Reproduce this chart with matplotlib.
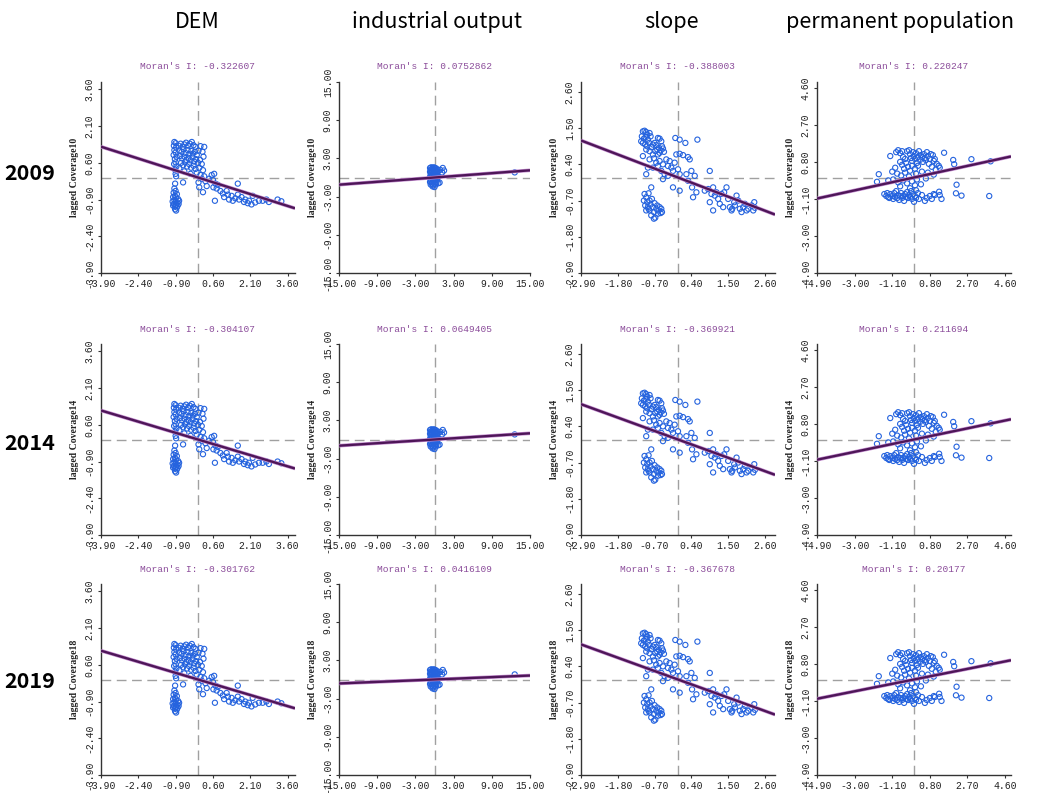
import matplotlib
matplotlib.use('Agg')
import matplotlib.pyplot as plt
import numpy as np

# %% data
columns = ['DEM', 'industrial output', 'slope', 'permanent population']
years = ['2009', '2014', '2019']
lag_names = ['lagged Coverage10', 'lagged Coverage14', 'lagged Coverage18']

# Moran's I per year (rows) and variable (columns)
moran_i = [
    [-0.322607, 0.0752862, -0.388003, 0.220247],
    [-0.304107, 0.0649405, -0.369921, 0.211694],
    [-0.301762, 0.0416109, -0.367678, 0.20177],
]

ticks = [
    [-3.90, -2.40, -0.90, 0.60, 2.10, 3.60],
    [-15.0, -9.0, -3.0, 3.0, 9.0, 15.0],
    [-2.90, -1.80, -0.70, 0.40, 1.50, 2.60],
    [-4.90, -3.00, -1.10, 0.80, 2.70, 4.60],
]
limits = [3.9, 15.0, 2.9, 4.9]

# standardized variable (x) vs spatially lagged coverage (y)
dem_pts = [
    (-0.95, 1.45), (-0.90, 1.40), (-0.97, 1.30), (-0.88, 1.22), (-0.95, 1.12), (-0.90, 1.02),
    (-0.98, 0.92), (-0.86, 0.85), (-0.93, 0.75), (-0.90, 0.62), (-0.96, 0.55), (-0.87, 0.45),
    (-0.92, 0.32), (-0.90, 0.15), (-0.88, 0.05), (-0.92, -0.25),
    (-0.78, 1.30), (-0.70, 1.38), (-0.62, 1.25), (-0.55, 1.35), (-0.48, 1.42), (-0.40, 1.30),
    (-0.33, 1.38), (-0.25, 1.45), (-0.18, 1.32), (-0.10, 1.25), (-0.75, 1.10), (-0.66, 1.05),
    (-0.58, 1.15), (-0.50, 1.00), (-0.42, 1.12), (-0.35, 0.95), (-0.27, 1.08), (-0.20, 0.98),
    (-0.12, 1.05), (-0.05, 0.92), (0.02, 1.10), (0.10, 1.28), (0.18, 1.05), (0.25, 1.25),
    (0.22, 0.85), (-0.72, 0.88), (-0.64, 0.78), (-0.55, 0.85), (-0.47, 0.72), (-0.38, 0.80),
    (-0.30, 0.70), (-0.22, 0.82), (-0.15, 0.65), (-0.08, 0.75), (0.00, 0.60), (0.08, 0.72),
    (0.15, 0.55), (-0.68, 0.60), (-0.60, 0.50), (-0.52, 0.62), (-0.44, 0.45), (-0.36, 0.55),
    (-0.28, 0.40), (-0.18, 0.48), (-0.10, 0.35), (0.05, 0.40), (0.20, 0.30), (-0.75, 0.38),
    (-0.55, 0.25), (-0.30, 0.15), (-0.60, -0.20), (-0.05, 0.20), (0.10, 0.10), (0.25, 0.05),
    (0.02, -0.20), (0.05, -0.40), (0.15, -0.05), (0.30, -0.15), (0.35, -0.35), (0.20, -0.60),
    (0.45, -0.05), (0.55, 0.10), (0.65, 0.15), (0.60, -0.10), (0.70, -0.25), (0.62, -0.40),
    (0.75, -0.45), (0.80, -0.30), (0.68, -0.95), (0.90, -0.55), (1.00, -0.65), (1.05, -0.80),
    (1.15, -0.55), (1.20, -0.70), (1.25, -0.90), (1.35, -0.75), (1.40, -0.95), (1.50, -0.85),
    (1.60, -0.25), (1.60, -0.70), (1.65, -0.90), (1.75, -0.80), (1.85, -1.00), (1.90, -0.90),
    (2.00, -1.05), (2.05, -0.95), (2.15, -1.10), (2.20, -0.75), (2.30, -1.02), (2.45, -0.95),
    (2.60, -0.95), (2.75, -0.90), (2.85, -1.00), (3.20, -0.90), (3.35, -0.97),
    (-0.95, -0.45), (-0.90, -0.55), (-0.98, -0.62), (-0.85, -0.68), (-0.93, -0.75), (-1.00, -0.80),
    (-0.88, -0.82), (-0.80, -0.88), (-0.95, -0.92), (-1.02, -0.98), (-0.90, -1.00), (-0.83, -1.02),
    (-0.97, -1.08), (-0.88, -1.12), (-0.78, -1.08), (-0.93, -1.18), (-1.00, -1.15), (-0.85, -1.22),
    (-0.92, -1.30), (-0.88, -1.35), (-0.76, -0.95), (-0.82, -1.15),
]

ind_pts = [
    (-0.7, 1.5), (-0.5, 1.6), (-0.3, 1.5), (-0.1, 1.6), (0.1, 1.5), (0.3, 1.4), (-0.6, 1.2),
    (-0.4, 1.1), (-0.2, 1.3), (0.0, 1.2), (0.2, 1.1), (0.4, 1.2), (-0.7, 0.9), (-0.5, 0.8),
    (-0.3, 0.9), (-0.1, 0.7), (0.1, 0.9), (0.3, 0.8), (0.5, 0.9), (-0.6, 0.5), (-0.4, 0.4),
    (-0.2, 0.6), (0.0, 0.4), (0.2, 0.5), (0.4, 0.3), (-0.7, 0.1), (-0.5, 0.2), (-0.3, 0.0),
    (-0.1, 0.2), (0.1, 0.0), (0.3, 0.1), (0.5, 0.2), (-0.6, -0.3), (-0.4, -0.2), (-0.2, -0.4),
    (0.0, -0.3), (0.2, -0.2), (0.4, -0.4), (-0.7, -0.7), (-0.5, -0.6), (-0.3, -0.8), (-0.1, -0.6),
    (0.1, -0.7), (0.3, -0.8), (-0.6, -1.1), (-0.4, -1.0), (-0.2, -1.2), (0.0, -1.0), (0.2, -1.1),
    (-0.3, -1.4), (0.0, -1.5), (0.6, -0.9), (0.8, -0.8), (0.9, 1.2), (1.3, 1.5), (1.5, 1.1),
    (1.2, 0.8), (12.6, 0.8),
]

slope_pts = [
    (-1.10, 1.10), (-1.05, 1.40), (-1.00, 1.42), (-0.95, 1.38), (-0.92, 1.30), (-1.08, 1.25),
    (-1.02, 1.18), (-0.97, 1.22), (-0.90, 1.15), (-0.85, 1.35), (-0.82, 1.25), (-1.05, 1.05),
    (-0.98, 1.00), (-0.92, 0.95), (-0.86, 1.05), (-0.80, 0.92), (-0.75, 1.00), (-0.70, 1.05),
    (-0.65, 0.98), (-0.60, 1.20), (-0.55, 1.18), (-0.50, 1.10), (-0.62, 0.85), (-0.57, 0.90),
    (-0.52, 0.82), (-0.48, 0.95), (-0.45, 0.88), (-0.42, 0.78), (-0.55, 0.75), (-0.60, 0.70),
    (-0.68, 0.80), (-0.75, 0.70), (-0.85, 0.80), (-0.95, 0.85), (-1.05, 0.65), (-0.85, 0.55),
    (-0.72, 0.58), (-0.65, 0.45), (-0.55, 0.50), (-0.45, 0.40), (-0.35, 0.55), (-0.25, 0.50),
    (-0.30, 0.35), (-0.20, 0.30), (-0.10, 0.45), (-0.15, 0.20), (-0.40, 0.10), (-0.50, 0.20),
    (-0.60, 0.35), (-0.75, 0.30), (-0.90, 0.30), (-0.95, 0.10), (-0.80, -0.30), (-0.45, -0.05),
    (-0.30, 0.05), (-0.15, -0.30), (-0.05, 0.70), (-0.08, 1.20), (0.05, 1.15), (0.22, 1.05),
    (0.58, 1.15), (0.05, 0.72), (0.15, 0.68), (0.30, 0.62), (0.35, 0.55), (0.00, 0.25),
    (0.05, 0.10), (0.25, 0.10), (0.40, 0.20), (0.50, 0.05), (0.30, -0.10), (0.42, -0.30),
    (0.55, -0.45), (0.45, -0.60), (0.05, -0.40), (0.95, 0.20),
    (0.80, -0.40), (0.90, -0.35), (1.00, -0.50), (1.05, -0.30), (1.10, -0.55), (1.15, -0.45),
    (1.20, -0.65), (1.25, -0.80), (1.30, -0.50), (1.38, -0.45), (1.45, -0.30), (1.50, -0.65),
    (1.55, -0.90), (1.60, -1.00), (1.62, -0.95), (1.70, -0.85), (1.75, -0.55), (1.80, -0.70),
    (1.85, -0.95), (1.90, -1.05), (1.95, -0.90), (2.00, -0.80), (2.05, -1.00), (2.10, -0.95),
    (2.20, -0.85), (2.25, -1.00), (2.28, -0.75), (2.30, -0.92), (1.35, -0.90), (1.05, -1.00),
    (0.95, -0.75), (1.68, -0.75),
    (-1.00, -0.50), (-0.95, -0.60), (-0.88, -0.48), (-1.02, -0.70), (-0.92, -0.75), (-0.85, -0.70),
    (-0.78, -0.65), (-0.98, -0.85), (-0.90, -0.90), (-0.82, -0.82), (-0.75, -0.90), (-0.70, -0.78),
    (-0.62, -0.85), (-0.55, -0.90), (-0.50, -0.95), (-0.48, -1.05), (-0.58, -1.00), (-0.65, -0.95),
    (-0.72, -1.05), (-0.85, -1.00), (-0.95, -1.00), (-0.80, -1.15), (-0.68, -1.22), (-0.72, -1.25),
    (-0.60, -1.10), (-0.52, -1.08), (-0.88, -0.95),
]

pop_pts = [
    (-1.20, 1.10), (-0.90, 1.30), (-0.80, 1.40), (-0.70, 1.25), (-0.60, 1.35), (-0.55, 1.05),
    (-0.45, 0.95), (-0.35, 1.35), (-0.25, 1.40), (-0.20, 1.20), (-0.15, 1.00), (-0.10, 0.85),
    (-0.05, 1.30), (0.00, 1.10), (0.05, 0.95), (0.10, 1.25), (0.15, 0.75), (0.20, 1.05),
    (0.25, 1.35), (0.30, 0.90), (0.35, 1.15), (0.40, 1.05), (0.45, 0.80), (0.50, 1.20),
    (0.55, 1.00), (0.60, 0.90), (0.65, 1.30), (0.70, 1.10), (0.75, 0.70), (0.80, 0.95),
    (0.85, 1.20), (0.90, 0.55), (0.95, 1.15), (1.00, 0.85), (1.05, 0.95), (1.10, 0.40),
    (1.15, 0.70), (1.25, 0.60), (1.52, 1.27), (-0.70, 0.80), (-0.60, 0.65), (-0.40, 0.75),
    (-0.50, 0.45), (-0.30, 0.55), (-0.20, 0.35), (-0.10, 0.60), (0.05, 0.45), (0.20, 0.60),
    (-0.85, 0.20), (-0.65, 0.10), (-0.45, 0.25), (-0.25, 0.05), (0.10, 0.20), (0.40, 0.30),
    (0.70, 0.25), (1.00, 0.15), (1.30, 0.50), (-0.95, 0.50), (-1.10, 0.30), (-1.78, 0.17),
    (-1.87, -0.22), (1.98, 0.90), (2.03, 0.68), (2.90, 0.94), (3.87, 0.83),
    (-1.30, -0.15), (-1.05, -0.10), (-0.80, -0.25), (-0.55, -0.15), (-0.35, -0.30), (-0.10, -0.20),
    (0.05, -0.40), (0.15, -0.10), (0.35, -0.35), (0.60, -0.05), (-0.70, -0.45), (-0.20, -0.55),
    (0.10, -0.65), (2.15, -0.37),
    (-1.50, -0.85), (-1.40, -0.95), (-1.30, -1.00), (-1.35, -0.80), (-1.25, -1.05), (-1.20, -0.85),
    (-1.10, -0.95), (-1.05, -1.10), (-1.00, -0.80), (-0.95, -1.00), (-0.90, -0.70), (-0.85, -1.05),
    (-0.80, -0.90), (-0.75, -1.15), (-0.70, -0.95), (-0.65, -0.80), (-0.60, -1.05), (-0.55, -0.95),
    (-0.50, -1.20), (-0.45, -0.85), (-0.40, -1.00), (-0.35, -0.75), (-0.30, -1.05), (-0.25, -0.90),
    (-0.20, -1.00), (-0.15, -0.70), (-0.10, -1.10), (-0.05, -0.85), (0.00, -1.25), (0.05, -0.95),
    (0.10, -1.05), (0.20, -0.80), (0.25, -1.10), (0.40, -0.90), (0.55, -1.20), (0.65, -1.05),
    (0.80, -0.95), (0.90, -1.10), (1.00, -0.85), (1.05, -0.90), (1.27, -0.73), (1.30, -0.90),
    (1.39, -1.10), (2.12, -0.81), (2.40, -0.93), (3.80, -0.95),
]

points = [dem_pts, ind_pts, slope_pts, pop_pts]

# %% layout (pixel boxes of each plot area)
W, H = 1043, 793
col_x = [(101, 295), (339, 530), (581, 775), (817, 1011)]
row_y = [(82, 273), (344, 535), (584, 775)]
col_title_x = [197, 437, 672, 900]

fig = plt.figure(figsize=(W / 100, H / 100), dpi=100)
fig.patch.set_facecolor('white')

tick_font = dict(family='Liberation Mono', size=7, color='#222222')
dash_color = '#a0a0a0'
line_color = '#4e1658'
pt_color = '#2563de'

for r in range(3):
    for c in range(4):
        l, rr = col_x[c]
        t, b = row_y[r]
        ax = fig.add_axes([l / W, 1 - b / H, (rr - l) / W, (b - t) / H])
        lim = limits[c]
        ax.set_xlim(-lim, lim)
        ax.set_ylim(-lim, lim)

        xs = [p[0] for p in points[c]]
        ys = [p[1] for p in points[c]]
        ax.scatter(xs, ys, s=14, facecolors='none', edgecolors=pt_color,
                   linewidths=0.8, zorder=3)

        ax.axvline(0, color=dash_color, lw=1.0, dashes=(7, 4), zorder=1)
        ax.axhline(0, color=dash_color, lw=1.0, dashes=(7, 4), zorder=1)

        xl = np.array([-lim, lim])
        ax.plot(xl, moran_i[r][c] * xl, color='#c58fd0', lw=2.6, zorder=4,
                solid_capstyle='butt')
        ax.plot(xl, moran_i[r][c] * xl, color=line_color, lw=1.7, zorder=5,
                solid_capstyle='butt')

        for s in ['top', 'right']:
            ax.spines[s].set_visible(False)
        for s in ['left', 'bottom']:
            ax.spines[s].set_color('#333333')
            ax.spines[s].set_linewidth(1.0)

        labels = ['%.2f' % v for v in ticks[c]]
        ax.set_xticks(ticks[c])
        ax.set_xticklabels(labels, fontdict=tick_font)
        ax.set_yticks(ticks[c])
        ax.set_yticklabels(labels, fontdict=tick_font, rotation=90, va='center')
        ax.tick_params(length=2.5, width=0.8, color='#333333', pad=2)

        ax.set_ylabel(lag_names[r], family='Liberation Serif', size=7,
                      weight='bold', color='#222222', labelpad=4)
        ax.set_title("Moran's I: %s" % moran_i[r][c], family='Liberation Mono',
                     size=6.8, color='#8b4c9a', pad=9)

for c in range(4):
    fig.text(col_title_x[c] / W, 1 - 22 / H, columns[c],
             family=['Noto Sans CJK SC', 'DejaVu Sans'], size=15.5,
             ha='center', va='center', color='black')

row_label_y = [173, 443, 681]
for r in range(3):
    fig.text(30 / W, 1 - row_label_y[r] / H, years[r],
             family=['Noto Sans CJK SC', 'DejaVu Sans'], size=15.5,
             weight='bold', ha='center', va='center', color='black')

fig.savefig('out.png', dpi=100, facecolor='white')
